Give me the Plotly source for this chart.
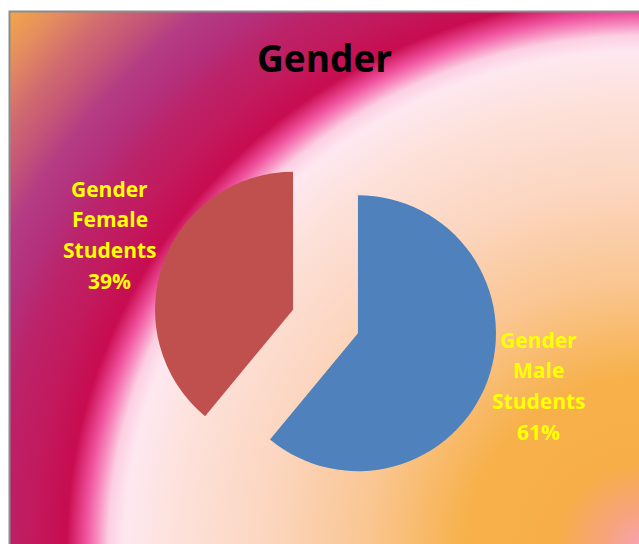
import base64
import plotly.graph_objects as go

# ---- data ----
series_name = "Gender"
categories = ["Male Students", "Female Students"]
values = [61, 39]
slice_colors = ["#4F81BD", "#C0504D"]
chart_title = "Gender"

# ---- layout constants ----
W, H = 639, 544
label_fs = 21
label_x = [538.5, 110.0]          # label centre x (px)
label_first_base = [347.0, 196.0]  # first line baseline (px)
label_step = 30.8

# ---- background: radial gradient (Excel style, from bottom-right corner) ----
gcx, gcy, ga, gb = 645.0, 548.0, 559.0, 534.0
tmax = 1.55
grad_stops = [
    (0.00, "#F7A3B9"), (0.07, "#F8A37E"), (0.16, "#F7AE48"), (0.32, "#F7B14B"),
    (0.50, "#FAC692"), (0.68, "#FCD6C0"), (0.84, "#FDE1DA"), (0.93, "#FEE8F0"),
    (0.96, "#FCCFE2"), (0.98, "#F78DC0"), (1.00, "#F0529E"), (1.035, "#C80C50"),
    (1.10, "#C21A5E"), (1.16, "#BC2268"), (1.22, "#B4307C"), (1.28, "#B43C84"),
    (1.33, "#C45478"), (1.385, "#D06A70"), (1.45, "#E48C60"), (1.52, "#F2A84A"),
    (1.55, "#F4AC48"),
]
stop_xml = "".join(
    f'<stop offset="{t / tmax:.4f}" stop-color="{c}"/>' for t, c in grad_stops
)
svg = (
    f'<svg xmlns="http://www.w3.org/2000/svg" width="{W}" height="{H}" '
    f'viewBox="0 0 {W} {H}" preserveAspectRatio="none">'
    f'<defs><radialGradient id="g" gradientUnits="userSpaceOnUse" '
    f'cx="{gcx}" cy="{gcy}" fx="{gcx}" fy="{gcy}" r="{ga * tmax}" '
    f'gradientTransform="translate({gcx} {gcy}) scale(1 {gb / ga:.5f}) translate({-gcx} {-gcy})">'
    f'{stop_xml}</radialGradient></defs>'
    f'<rect x="10" y="12" width="{W}" height="{H}" fill="url(#g)"/></svg>'
)
svg_uri = "data:image/svg+xml;base64," + base64.b64encode(svg.encode()).decode()

# ---- pie geometry (exploded) ----
pcx, pcy, box = 325.5, 321.5, 345.0
dom_x = [(pcx - box / 2) / W, (pcx + box / 2) / W]
dom_y = [1 - (pcy + box / 2) / H, 1 - (pcy - box / 2) / H]

fig = go.Figure()
fig.add_trace(go.Pie(
    labels=categories,
    values=values,
    sort=False,
    direction="clockwise",
    rotation=0,
    pull=[0.25] * len(values),
    marker=dict(colors=slice_colors, line=dict(width=0)),
    textinfo="none",
    hoverinfo="label+percent",
    showlegend=False,
    domain=dict(x=dom_x, y=dom_y),
))

annotations = []
total = sum(values)
for i, (cat, v) in enumerate(zip(categories, values)):
    pct = round(v / total * 100)
    lines = [series_name] + cat.split() + [f"{pct}%"]
    for k, ln in enumerate(lines):
        base = label_first_base[i] + k * label_step
        ymid = base - 0.357 * label_fs
        annotations.append(dict(
            text=ln, x=label_x[i] / W, y=1 - ymid / H,
            xref="paper", yref="paper", xanchor="center", yanchor="middle",
            showarrow=False,
            font=dict(family="Open Sans", size=label_fs, color="#FFFF00", weight=700),
        ))

annotations.append(dict(
    text=chart_title, x=324.5 / W, y=1 - 57.5 / H,
    xref="paper", yref="paper", xanchor="center", yanchor="middle",
    showarrow=False,
    font=dict(family="Open Sans", size=37, color="#000000", weight=700),
))

fig.update_layout(
    width=W, height=H,
    margin=dict(l=0, r=0, t=0, b=0),
    paper_bgcolor="#FFFFFF",
    plot_bgcolor="rgba(0,0,0,0)",
    images=[dict(
        source=svg_uri, xref="paper", yref="paper", x=0, y=1,
        sizex=1, sizey=1, xanchor="left", yanchor="top",
        sizing="stretch", layer="below",
    )],
    shapes=[dict(
        type="rect", xref="paper", yref="paper",
        x0=9.5 / W, x1=1.02, y0=-0.02, y1=1 - 11.5 / H,
        line=dict(color="#8C8C8C", width=2), fillcolor="rgba(0,0,0,0)",
    )],
    annotations=annotations,
)

fig.write_html(
    "out.html",
    config={"displayModeBar": False},
    post_script="document.body.style.margin='0';document.body.style.overflow='hidden';",
)
